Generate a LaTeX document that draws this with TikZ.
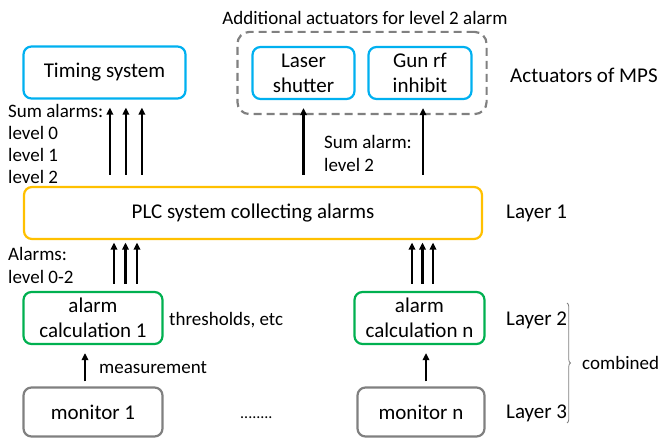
\documentclass[tikz,border=0pt]{standalone}
\usepackage{fontspec}
\setmainfont{Carlito}
\usetikzlibrary{arrows.meta,fit,decorations.pathreplacing}

\definecolor{actblue}{RGB}{0,176,240}
\definecolor{plcyellow}{RGB}{255,192,0}
\definecolor{calcgreen}{RGB}{0,176,80}
\definecolor{mongray}{RGB}{128,128,128}

\tikzset{
  box/.style={draw,rounded corners=8pt,line width=2.2pt,minimum height=52pt,
    align=center,inner sep=0pt,font=\fontsize{21}{25}\selectfont},
  actbox/.style={box,draw=actblue},
  plcbox/.style={box,draw=plcyellow},
  calcbox/.style={box,draw=calcgreen},
  monbox/.style={box,draw=mongray,minimum height=49pt},
  group/.style={draw=mongray,line width=2.2pt,dash pattern=on 8pt off 5pt,
    rounded corners=12pt,inner sep=14pt},
  lbl/.style={align=left,inner sep=0pt,font=\fontsize{21}{22.3}\selectfont},
  lblsm/.style={lbl,font=\fontsize{19}{22.3}\selectfont},
  sig/.style={line width=2.2pt,-{Triangle[length=7pt,width=6.5pt]}},
}

\begin{document}
\begin{tikzpicture}[x=1pt,y=-1pt]
  \useasboundingbox (0,0) rectangle (663,438);
  % Actuators
  \node[actbox,minimum width=162pt] (timing) at (104.5,72.5) {Timing system};
  \node[actbox,minimum width=102pt] (laser) at (303.5,73) {Laser\\shutter};
  \node[actbox,minimum width=103pt] (gun) at (420,73) {Gun rf\\inhibit};
  \node[group,fit=(laser)(gun)] (extra) {};
  \node[lblsm] (extratxt) at (365,18) {Additional actuators for level 2 alarm};
  \node[lbl,anchor=west] (lay0) at (510,75) {Actuators of MPS};
  % Layer 1
  \node[plcbox,minimum width=458pt] (plc) at (253,213) {PLC system collecting alarms};
  \node[lbl,anchor=west] (lay1) at (506,213) {Layer 1};
  % Layer 2
  \node[calcbox,minimum width=139pt] (calc1) at (93,318) {alarm\\calculation 1};
  \node[calcbox,minimum width=130pt] (calcn) at (419.5,318) {alarm\\calculation n};
  \node[lbl,anchor=west] (lay2) at (506,320) {Layer 2};
  % Layer 3
  \node[monbox,minimum width=139pt] (mon1) at (93,412) {monitor 1};
  \node[monbox,minimum width=127pt] (monn) at (421,412) {monitor n};
  \node[lbl,anchor=west] (lay3) at (506,413) {Layer 3};
  \node[lbl,anchor=base west,font=\fontsize{16}{16}\selectfont] (dots) at (240,418) {........};

  % Sum alarms to the timing system
  \foreach \dx in {87,103,119}
    \draw[sig,shorten <=11pt,shorten >=8pt] ([xshift=\dx pt]plc.north west)
      -- ([xshift=\dx pt]plc.north west |- timing.south);
  % Level 2 sum alarm to the extra actuators
  \draw[sig,shorten <=11pt,shorten >=8pt] (laser.south |- plc.north) -- (laser.south);
  \draw[sig,shorten <=11pt,shorten >=8pt] ([xshift=3pt]gun.south |- plc.north)
    -- ([xshift=3pt]gun.south);
  % Alarms into the PLC
  \foreach \dx in {21,32.5,44}
    \draw[sig,shorten <=7pt,shorten >=2.5pt] ([xshift=\dx pt]calc1.north)
      -- ([xshift=\dx pt]calc1.north |- plc.south);
  \foreach \dx in {-7.5,3,13.5}
    \draw[sig,shorten <=7pt,shorten >=2.5pt] ([xshift=\dx pt]calcn.north)
      -- ([xshift=\dx pt]calcn.north |- plc.south);
  % Measurements
  \draw[sig,shorten <=5pt,shorten >=8pt] ([xshift=-8pt]mon1.north)
    -- ([xshift=-8pt]mon1.north |- calc1.south);
  \draw[sig,shorten <=5pt,shorten >=8pt] ([xshift=5pt]monn.north)
    -- ([xshift=5pt]monn.north |- calcn.south);

  % Labels
  \node[lblsm,anchor=west] (sumall) at (8,144) {Sum alarms:\\level 0\\level 1\\level 2};
  \node[lblsm,anchor=west] (sumtwo) at (324,153.5) {Sum alarm:\\level 2};
  \node[lblsm,anchor=west] (alarms) at (8,265.5) {Alarms:\\level 0-2};
  \node[lblsm,anchor=west] (thr) at (169,320) {thresholds, etc};
  \node[lblsm,anchor=west] (meas) at (99,368) {measurement};

  % Layers 2 and 3 combined
  \coordinate (combtop) at (567,303);
  \coordinate (combbot) at (567,423);
  \draw[mongray,line width=0.8pt,decorate,decoration={brace,amplitude=3.5pt}]
    (combtop) -- (combbot);
  \node[lblsm,anchor=west] (comb) at (582,363) {combined};
\end{tikzpicture}
\end{document}
